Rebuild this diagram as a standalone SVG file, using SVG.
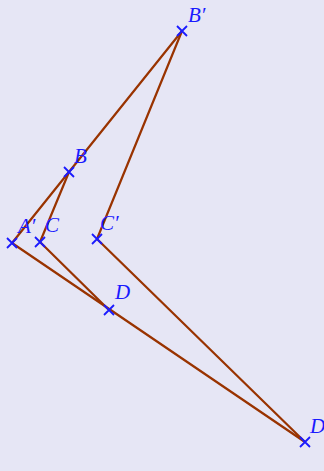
<svg xmlns="http://www.w3.org/2000/svg" width="324" height="471" viewBox="0 0 324 471">
<style>
.seg{stroke:#993300;stroke-width:2.2;fill:none;stroke-linecap:round}
.pt{stroke:#1a1aff;stroke-width:1.8;fill:none}
.lbl{font-family:"Liberation Serif",serif;font-style:italic;font-size:21px;fill:#1a1aff}
</style>
<defs>
<path id="x" d="M-5,-5L5,5M-5,5L5,-5"/>
</defs>
<rect width="324" height="471" fill="#e6e6f5"/>
<g id="connectors">
<line class="seg" x1="12" y1="243" x2="182" y2="31"/>
<line class="seg" x1="69" y1="172" x2="40" y2="242"/>
<line class="seg" x1="182" y1="31" x2="97" y2="239"/>
<line class="seg" x1="40" y1="242" x2="109" y2="310"/>
<line class="seg" x1="97" y1="239" x2="305" y2="442"/>
<line class="seg" x1="12" y1="243" x2="305" y2="442"/>
</g>
<g id="Bp"><use href="#x" class="pt" x="182" y="31"/><text class="lbl" x="188" y="22">B′</text></g>
<g id="B"><use href="#x" class="pt" x="69" y="172"/><text class="lbl" x="74" y="163">B</text></g>
<g id="Ap"><use href="#x" class="pt" x="12" y="243"/><text class="lbl" x="18" y="233">A′</text></g>
<g id="C"><use href="#x" class="pt" x="40" y="242"/><text class="lbl" x="45" y="232">C</text></g>
<g id="Cp"><use href="#x" class="pt" x="97" y="239"/><text class="lbl" x="100" y="230">C′</text></g>
<g id="D"><use href="#x" class="pt" x="109" y="310"/><text class="lbl" x="115" y="299">D</text></g>
<g id="Dp"><use href="#x" class="pt" x="305" y="442"/><text class="lbl" x="310" y="433">D′</text></g>
</svg>
